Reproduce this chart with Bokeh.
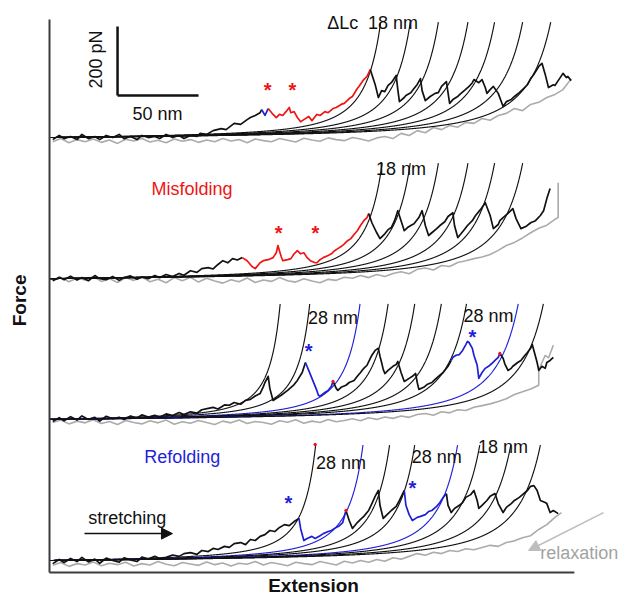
import numpy as np
from bokeh.plotting import figure
from bokeh.models import Range1d, Arrow, NormalHead
from bokeh.core.properties import value
from bokeh.embed import file_html
from bokeh.resources import INLINE

# ------------------------------------------------------------------ data
# extension in nm, force in pN (each panel relative to its own baseline)
panel_offset = [1226, 817, 409, 0]

KT_P = 10.0     # kT / persistence length (pN) of the WLC fits
F_TOP = 336.0   # force where the drawn fit curves stop

# contour lengths (nm) of the WLC fit curves, per panel, and their colours
p1_lc = [224, 244, 263, 283, 301, 320, 339]
p1_lc_col = ["k", "k", "k", "k", "k", "k", "k"]
p2_lc = [225, 244, 263, 283, 301, 320]
p2_lc_col = ["k", "k", "k", "k", "k", "k"]
p3_lc = [156, 176, 210, 229, 247, 265, 282, 317, 334]
p3_lc_col = ["k", "k", "b", "k", "k", "k", "k", "b", "k"]
p4_lc = [180, 212, 230, 247, 276, 291, 312, 332]
p4_lc_col = ["k", "b", "k", "k", "b", "k", "k", "k"]

# ---- panel 1 stretching trace (pieces: black, blue, red, black)
p1_k1_x = [2, 6, 9, 13, 17, 20, 24, 28, 31, 35, 39, 43, 46, 50, 54, 57, 61, 65, 68, 72,
           76, 80, 83, 87, 91, 93, 97, 101, 106, 109, 114, 118, 122, 124, 127, 130, 131]
p1_k1_f = [-6, 6, -3, 3, -6, 9, -3, 3, -6, 6, 0, 9, -3, 3, -6, 6, 0, 3, -3, 9,
           0, 6, -3, 6, 3, 12, 9, 20, 26, 23, 41, 38, 52, 58, 64, 72, 81]
p1_b1_x = [133, 135]
p1_b1_f = [64, 84]
p1_r1_x = [138, 140, 142, 144, 146, 148, 149, 151, 153, 155, 157, 160, 162, 165, 167, 170,
           172, 175, 177, 180, 182, 185, 187, 190, 191, 194, 196, 198]
p1_r1_f = [67, 58, 67, 64, 75, 87, 72, 75, 58, 46, 52, 61, 49, 67, 64, 75,
           72, 84, 87, 96, 99, 113, 119, 142, 148, 168, 177, 197]
p1_k2_x = [201, 203, 205, 207, 209, 211, 214, 215, 216, 219, 220, 223, 225, 227, 229, 230,
           232, 235, 238, 240, 242, 245, 246, 247, 249, 252, 254, 256, 259, 261, 262, 265,
           267, 269, 270, 272, 274, 277, 280, 282, 285, 287, 290, 292, 295, 297, 299, 302,
           304, 306, 308, 311, 312, 314, 317, 319, 320, 322]
p1_k2_f = [154, 116, 136, 133, 151, 159, 180, 139, 104, 116, 122, 130, 142, 154, 171, 136,
           107, 119, 128, 130, 148, 162, 130, 99, 110, 119, 128, 136, 148, 159, 168, 159,
           168, 145, 128, 139, 148, 128, 90, 104, 110, 119, 130, 139, 153, 171, 183, 206,
           215, 183, 145, 153, 151, 165, 186, 174, 177, 165]

# ---- panel 2 stretching trace (black, red, black)
p2_k1_x = [2, 6, 9, 13, 17, 20, 24, 28, 31, 35, 39, 43, 46, 50, 54, 57, 61, 65, 68, 72,
           76, 80, 83, 87, 91, 94, 98, 101, 104, 107, 110, 113, 116, 119]
p2_k1_f = [-6, 4, -3, 7, -4, 3, -6, 9, 0, -3, 6, -5, 3, 8, -2, 5, 0, 9, 3, 12,
           6, 15, 10, 23, 18, 29, 32, 28, 41, 52, 46, 58, 54, 61]
p2_r1_x = [122, 125, 127, 130, 132, 135, 138, 140, 141, 143, 144, 147, 149, 151, 153, 155,
           157, 159, 161, 164, 165, 167, 169, 172, 174, 176, 178, 180, 182, 184, 186, 188,
           190, 192, 194, 196, 197]
p2_r1_f = [52, 35, 29, 46, 52, 55, 61, 75, 96, 64, 52, 55, 58, 72, 81, 72,
           75, 61, 52, 46, 46, 55, 61, 67, 72, 81, 87, 93, 101, 110, 116, 128,
           139, 154, 168, 177, 189]
p2_k2_x = [199, 202, 204, 207, 209, 211, 213, 215, 217, 219, 221, 223, 225, 228, 230, 232,
           234, 236, 239, 241, 244, 246, 249, 250, 252, 254, 256, 258, 261, 263, 266, 269,
           272, 274, 277, 278, 280, 283, 286, 288, 291, 294, 297, 300, 303, 305, 307, 309]
p2_k2_f = [162, 133, 116, 130, 142, 148, 168, 197, 168, 139, 148, 154, 159, 177, 197, 154,
           125, 133, 145, 154, 165, 180, 191, 154, 119, 130, 142, 154, 168, 183, 200, 220,
           183, 145, 157, 168, 177, 189, 203, 174, 145, 151, 162, 168, 183, 197, 232, 261]

# ---- panel 3 stretching trace (black, blue, black, blue, black)
p3_k1_x = [2, 6, 9, 13, 17, 20, 24, 28, 31, 35, 39, 43, 46, 50, 54, 57, 61, 65, 68, 72,
           76, 80, 83, 87, 91, 94, 98, 101, 104, 108, 111, 114, 118, 121, 124, 127, 130, 132,
           133, 135, 136, 138, 143, 147, 151, 153, 156, 158]
p3_k1_f = [-6, 5, -4, 8, -2, 10, 0, 6, -5, 9, 2, 6, 0, 10, 4, 13, 7, 12, 6, 16,
           11, 20, 14, 22, 18, 28, 32, 35, 30, 42, 41, 49, 44, 55, 58, 68, 75, 95,
           107, 125, 90, 55, 70, 84, 101, 113, 136, 165]
p3_b1_x = [160, 162, 165, 166, 167, 170, 172, 174, 175]
p3_b1_f = [142, 119, 84, 70, 67, 78, 84, 96, 110]
p3_k2_x = [177, 178, 180, 183, 185, 188, 190, 192, 194, 196, 198, 199, 201, 203, 204, 205,
           206, 207, 209, 212, 214, 215, 217, 219, 222, 224, 226, 227, 228, 231, 233, 236,
           238, 241, 243, 246, 248]
p3_k2_f = [90, 84, 93, 99, 107, 113, 125, 136, 148, 157, 177, 186, 200, 206, 183, 165,
           145, 133, 142, 154, 159, 168, 136, 110, 119, 125, 133, 107, 87, 93, 101, 107,
           116, 128, 136, 154, 171]
p3_b2_x = [249, 251, 253, 255, 257, 258, 259, 261, 262, 264, 265, 267, 269, 271, 273, 275,
           277, 278]
p3_b2_f = [180, 186, 188, 200, 217, 226, 223, 206, 186, 157, 119, 136, 148, 154, 162, 171,
           180, 191]
p3_k3_x = [280, 281, 283, 285, 286, 289, 291, 293, 295, 297, 298, 299, 301, 302, 304, 306,
           307, 309, 311]
p3_k3_f = [177, 162, 142, 148, 154, 165, 171, 183, 194, 206, 217, 200, 165, 142, 154, 148,
           165, 171, 180]

# ---- panel 4 stretching trace (black, blue, black, blue, black)
p4_k1_x = [2, 6, 9, 13, 17, 20, 24, 28, 31, 35, 39, 43, 46, 50, 54, 57, 61, 65, 68, 72,
           76, 80, 83, 87, 91, 94, 98, 101, 104, 108, 111, 114, 118, 121, 124, 127, 130, 133,
           136, 139, 142, 145, 148, 151, 154]
p4_k1_f = [-9, 3, -6, 6, -3, 9, -4, 4, -8, 7, 0, -5, 8, 2, -3, 10, 4, 12, 6, 9,
           16, 12, 20, 23, 18, 29, 26, 35, 32, 41, 38, 49, 52, 46, 61, 58, 70, 75,
           87, 84, 96, 104, 101, 113, 122]
p4_b1_x = [155, 157, 159, 162, 164, 167, 169, 172, 174, 177, 179, 181, 183]
p4_b1_f = [93, 58, 64, 70, 64, 72, 78, 84, 87, 96, 101, 110, 145]
p4_k2_x = [185, 187, 190, 192, 194, 197, 199, 201, 203, 204, 206, 209, 211, 214, 216, 219]
p4_k2_f = [116, 93, 110, 119, 128, 145, 165, 186, 203, 160, 122, 136, 145, 157, 174, 203]
p4_b2_x = [220, 222, 224, 227, 229, 232, 234, 236, 239, 241, 243, 245]
p4_b2_f = [160, 133, 116, 125, 128, 133, 142, 145, 157, 168, 183, 194]
p4_k3_x = [246, 248, 250, 253, 255, 257, 260, 262, 264, 265, 267, 270, 272, 275, 277, 280,
           282, 285, 287, 290, 292, 295, 297, 299, 301, 303, 306, 307, 309, 311, 314]
p4_k3_f = [160, 139, 151, 160, 168, 183, 191, 203, 174, 151, 160, 174, 186, 194, 165, 139,
           154, 165, 174, 183, 191, 203, 215, 217, 203, 174, 168, 165, 139, 145, 136]

# ---- relaxation traces (grey), sampled every 5 nm
gray_x = [2, 7, 12, 17, 22, 27, 32, 37, 42, 47, 52, 57, 62, 67, 72, 77, 82, 87, 92, 97,
          102, 107, 112, 117, 122, 127, 132, 137, 142, 147, 152, 157, 162, 167, 172, 177,
          182, 187, 192, 197, 202, 207, 212, 217, 222, 227, 232, 237, 242, 247, 252, 257,
          262, 267, 272, 277, 282, 287, 292, 297, 302, 307, 312, 317, 322]
p1_gray_f = [-12, -3, -15, -6, -12, -4, -14, -7, -17, -5, -10, -3, -13, -8, -15, -4, -11, -6,
             -14, -7, -12, -3, -10, -6, -15, -4, -9, -12, -3, -8, -13, -2, -7, -11, -1, -6,
             -9, 0, -4, -10, -1, 3, -3, 12, 6, 20, 14, 29, 23, 35, 30, 44, 41, 55, 50, 64,
             70, 84, 78, 96, 102, 116, 125, 139, 170]
p1_gray_tail_x = []
p1_gray_tail_f = []
p2_gray_f = [-6, 4, -9, 2, -4, 6, -8, 0, -11, 3, -5, 5, -9, -2, -12, 3, -6, 4, -10, 1,
             -7, -13, -3, -9, 2, -11, -4, -8, 3, -6, -10, 0, -7, -12, -2, -5, 4, 1, 9, 3,
             12, 6, 15, 20, 14, 27, 31, 25, 38, 35, 47, 52, 58, 63, 70, 82, 96, 105, 118,
             133, 146, 155, 172]
p2_gray_tail_x = [314, 314]
p2_gray_tail_f = [177, 278]
p3_gray_f = [-9, -2, -13, -5, -10, -1, -12, -6, -15, -3, -9, -13, -4, -10, -2, -14, -7, -11,
             -3, -9, -15, -5, -10, -2, -12, -6, -9, -14, -4, -8, -1, -11, -5, -9, 0, -7,
             -3, 2, -4, 5, 0, 7, 3, 10, 6, 14, 17, 12, 22, 19, 28, 26, 35, 40, 45, 52, 60,
             72, 80, 88, 99]
p3_gray_tail_x = [302, 304, 306, 308, 311]
p3_gray_tail_f = [142, 165, 186, 178, 215]
p4_gray_f = [-14, -6, -17, -9, -13, -4, -15, -8, -12, -5, -16, -9, -13, -3, -11, -15, -6,
             -10, -14, -4, -12, -7, -16, -8, -11, -3, -13, -6, -10, -15, -5, -9, -12, -3,
             -8, -13, -2, -7, 0, -5, 3, -2, 8, 4, 12, 20, 15, 24, 20, 29, 26, 34, 31, 38,
             44, 41, 52, 57, 66, 72, 90, 104, 125]
p4_gray_tail_x = [316]
p4_gray_tail_f = [139]

# event markers (asterisks): panel index, extension, force
star_panel = [0, 0, 1, 1, 2, 2, 3, 3]
star_x = [134.6, 150.0, 141.4, 164.2, 160.0, 261.0, 147.5, 224.0]
star_f = [151, 151, 148, 148, 214, 252, 180, 226]
star_col = ["r", "r", "r", "r", "b", "b", "b", "b"]

# small red marks on the traces
dot_panel = [2, 2, 3, 3]
dot_x = [175, 278, 183, 164]
dot_f = [110, 191, 145, 336]

# scale bar
bar_nm = 50
bar_pn = 200

# ------------------------------------------------------------------ styles
FONT = "Liberation Sans"
COL = {"k": "#111111", "b": "#1f1fd8", "r": "#f01414"}
GRAY = "#ababab"

p = figure(width=619, height=598, output_backend="svg", toolbar_location=None,
           x_axis_location=None, y_axis_location=None,
           x_range=Range1d(-30.25, 351.85), y_range=Range1d(-110.1, 1623.2),
           min_border=0, min_border_left=0, min_border_right=0,
           min_border_top=0, min_border_bottom=0)
p.outline_line_color = None
p.grid.visible = False
p.background_fill_color = "white"


def wlc(L):
    r = np.linspace(0.0, 0.95, 4000)
    f = KT_P * (0.25 / (1.0 - r) ** 2 - 0.25 + r)
    m = f <= F_TOP
    return (r[m] * L).tolist(), f[m].tolist()


def pieces(parts, off):
    xs, ys, cs = [], [], []
    last = None
    for c, px, pf in parts:
        x = list(px)
        f = list(pf)
        if last is not None:
            x = [last[0]] + x
            f = [last[1]] + f
        xs.append(x)
        ys.append([v + off for v in f])
        cs.append(COL[c])
        last = (x[-1], f[-1])
    return xs, ys, cs


panels = [
    dict(lc=p1_lc, lcc=p1_lc_col, gf=p1_gray_f, gtx=p1_gray_tail_x, gtf=p1_gray_tail_f,
         parts=[("k", p1_k1_x, p1_k1_f), ("b", p1_b1_x, p1_b1_f), ("r", p1_r1_x, p1_r1_f),
                ("k", p1_k2_x, p1_k2_f)]),
    dict(lc=p2_lc, lcc=p2_lc_col, gf=p2_gray_f, gtx=p2_gray_tail_x, gtf=p2_gray_tail_f,
         parts=[("k", p2_k1_x, p2_k1_f), ("r", p2_r1_x, p2_r1_f), ("k", p2_k2_x, p2_k2_f)]),
    dict(lc=p3_lc, lcc=p3_lc_col, gf=p3_gray_f, gtx=p3_gray_tail_x, gtf=p3_gray_tail_f,
         parts=[("k", p3_k1_x, p3_k1_f), ("b", p3_b1_x, p3_b1_f), ("k", p3_k2_x, p3_k2_f),
                ("b", p3_b2_x, p3_b2_f), ("k", p3_k3_x, p3_k3_f)]),
    dict(lc=p4_lc, lcc=p4_lc_col, gf=p4_gray_f, gtx=p4_gray_tail_x, gtf=p4_gray_tail_f,
         parts=[("k", p4_k1_x, p4_k1_f), ("b", p4_b1_x, p4_b1_f), ("k", p4_k2_x, p4_k2_f),
                ("b", p4_b2_x, p4_b2_f), ("k", p4_k3_x, p4_k3_f)]),
]

# relaxation traces
gx_all, gy_all = [], []
for i, pan in enumerate(panels):
    off = panel_offset[i]
    gx = gray_x[:len(pan["gf"])] + pan["gtx"]
    gy = [v + off for v in pan["gf"] + pan["gtf"]]
    gx_all.append(gx)
    gy_all.append(gy)
p.multi_line(gx_all, gy_all, line_color=GRAY, line_width=1.6)

# WLC fit curves
cx, cy, cc = [], [], []
for i, pan in enumerate(panels):
    off = panel_offset[i]
    for L, c in zip(pan["lc"], pan["lcc"]):
        x, f = wlc(L)
        cx.append(x)
        cy.append([v + off for v in f])
        cc.append(COL[c])
p.multi_line(cx, cy, line_color=cc, line_width=1.15)

# stretching traces
tx, ty, tc = [], [], []
for i, pan in enumerate(panels):
    xs, ys, cs = pieces(pan["parts"], panel_offset[i])
    tx += xs
    ty += ys
    tc += cs
p.multi_line(tx, ty, line_color=tc, line_width=1.7, line_join="round")

# red marks
p.scatter([x for x in dot_x],
          [f + panel_offset[k] for k, f in zip(dot_panel, dot_f)],
          size=2.5, color=COL["r"])

# asterisks
p.text(x=star_x, y=[f + panel_offset[k] for k, f in zip(star_panel, star_f)],
       text=["*"] * len(star_x), text_color=[COL[c] for c in star_col],
       text_font=value(FONT), text_font_size=value("20px"), text_font_style="bold",
       text_align="center", text_baseline="middle", y_offset=5)

# axes lines
p.segment(x0=[0, 0], y0=[-35, -35], x1=[0, 324], y1=[1568, -35],
          line_color="#3c3c3c", line_width=2)

# scale bar
sb_x, sb_y = 42, 1348
p.segment(x0=[sb_x, sb_x], y0=[sb_y, sb_y], x1=[sb_x, sb_x + bar_nm], y1=[sb_y + bar_pn, sb_y],
          line_color="#111111", line_width=2.5)


def label(x, y, t, color="#111111", size="18px", angle=0.0, style="normal"):
    p.text(x=[x], y=[y], text=[t], text_color=color, text_font=value(FONT),
           text_font_size=value(size), text_align="center", text_baseline="middle",
           angle=angle, text_font_style=style)


label(sb_x - 13.6, sb_y + 104, f"{bar_pn} pN", angle=np.pi / 2)
label(sb_x + 24.7, sb_y - 55, f"{bar_nm} nm")
label(181, 1559, "\u0394Lc")
label(212, 1559, "18 nm")
label(217, 1136, "18 nm")
label(175, 704, "28 nm")
label(271, 710, "28 nm")
label(180, 284, "28 nm")
label(239, 299, "28 nm")
label(280, 328, "18 nm")
label(88, 1078, "Misfolding", color=COL["r"])
label(82, 299, "Refolding", color=COL["b"])
label(48, 122, "stretching")
label(327, 23, "relaxation", color="#a3a3a3")
label(-18.5, 754, "Force", size="19px", angle=np.pi / 2, style="bold")
label(163, -71, "Extension", size="19px", style="bold")

p.add_layout(Arrow(x_start=21.6, y_start=78, x_end=75.9, y_end=78, line_color="#111111",
                   line_width=1.5,
                   end=NormalHead(size=11, fill_color="#111111", line_color="#111111")))
p.add_layout(Arrow(x_start=342, y_start=139, x_end=295.7, y_end=29, line_color="#bdbdbd",
                   line_width=1.5,
                   end=NormalHead(size=11, fill_color="#bdbdbd", line_color="#bdbdbd")))

open("out.html", "w").write(file_html(p, INLINE))
